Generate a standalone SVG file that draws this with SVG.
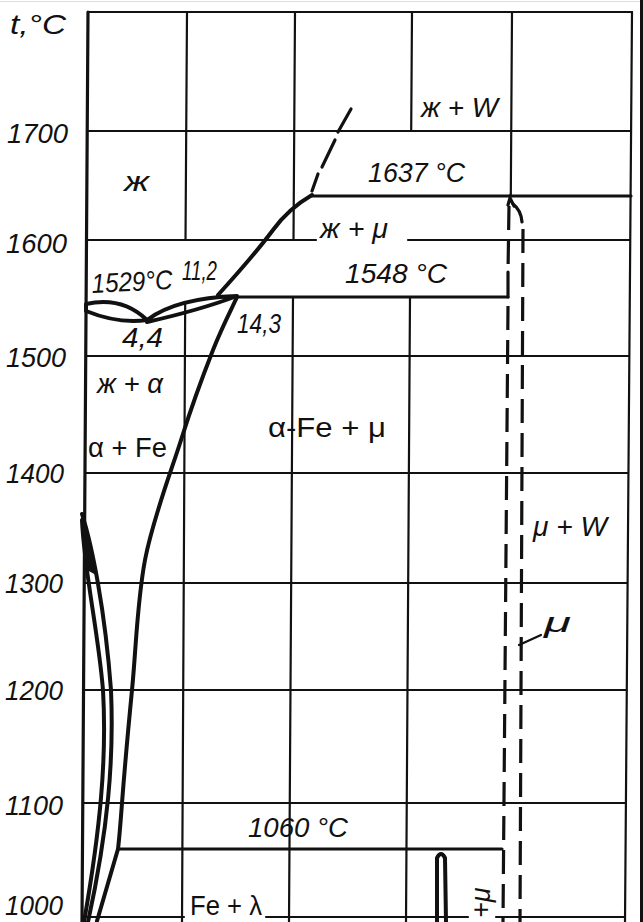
<svg xmlns="http://www.w3.org/2000/svg" width="643" height="922" viewBox="0 0 643 922">
<style>
.g{stroke:#111;stroke-width:2.2;fill:none;stroke-linecap:round}
.m{stroke:#111;stroke-width:3.2;fill:none;stroke-linecap:round}
.c{stroke:#111;stroke-width:4;fill:none;stroke-linecap:round;stroke-linejoin:round}
.d{stroke:#111;stroke-width:3.2;fill:none;stroke-dasharray:24 10}
.ax{font-family:"Liberation Sans",Arial,sans-serif;font-style:italic;font-size:28px;fill:#111}
.lb{font-family:"Liberation Sans",Arial,sans-serif;font-style:italic;font-size:27px;fill:#111}
.up{font-family:"Liberation Sans",Arial,sans-serif;font-size:28px;fill:#111}
</style>
<rect width="643" height="922" fill="#fff"/>
<rect x="640" y="0" width="3" height="922" fill="#111"/>
<line x1="0" y1="1.5" x2="640" y2="1.5" stroke="#ddd" stroke-width="1"/>

<g id="grid">
  <line class="m" x1="88" y1="12" x2="82" y2="922"/>
  <line class="g" x1="632" y1="12" x2="625" y2="922"/>
  <line class="g" x1="88" y1="12" x2="632" y2="12"/>
  <line class="g" x1="187" y1="12" x2="185.5" y2="240"/>
  <line class="g" x1="185.2" y1="303" x2="182" y2="922"/>
  <line class="g" x1="295" y1="12" x2="293.5" y2="240"/>
  <line class="g" x1="293" y1="297" x2="289" y2="922"/>
  <line class="g" x1="412" y1="12" x2="411.2" y2="131"/>
  <line class="g" x1="410" y1="297" x2="406" y2="922"/>
  <line class="g" x1="512" y1="12" x2="510.8" y2="196"/>
  <line class="g" x1="88" y1="131" x2="631" y2="131"/>
  <line class="g" x1="87" y1="240" x2="316" y2="240"/>
  <line class="g" x1="408" y1="240" x2="630" y2="240"/>
  <line class="g" x1="86" y1="356" x2="629" y2="356"/>
  <line class="g" x1="86" y1="473" x2="628" y2="473"/>
  <line class="g" x1="85" y1="583" x2="627" y2="583"/>
  <line class="g" x1="84" y1="690" x2="626" y2="690"/>
  <line class="g" x1="83" y1="803" x2="625" y2="803"/>
  <line class="g" x1="82" y1="917" x2="184" y2="917"/>
  <line class="g" x1="266" y1="917" x2="468" y2="917"/>
  <line class="g" x1="496" y1="917" x2="625" y2="917"/>
</g>

<g id="axis-labels">
  <text class="ax" x="10" y="34" textLength="56" lengthAdjust="spacingAndGlyphs">t,°C</text>
  <text class="ax" x="7" y="143" textLength="61" lengthAdjust="spacingAndGlyphs">1700</text>
  <text class="ax" x="6" y="253" textLength="61" lengthAdjust="spacingAndGlyphs">1600</text>
  <text class="ax" x="6" y="367" textLength="60" lengthAdjust="spacingAndGlyphs">1500</text>
  <text class="ax" x="6" y="483" textLength="58" lengthAdjust="spacingAndGlyphs">1400</text>
  <text class="ax" x="5" y="593" textLength="58" lengthAdjust="spacingAndGlyphs">1300</text>
  <text class="ax" x="5" y="700" textLength="58" lengthAdjust="spacingAndGlyphs">1200</text>
  <text class="ax" x="5" y="815" textLength="58" lengthAdjust="spacingAndGlyphs">1100</text>
  <text class="ax" x="5" y="915" font-size="25" textLength="58" lengthAdjust="spacingAndGlyphs">1000</text>
</g>

<g id="phase-lines">
  <line class="m" x1="312" y1="196" x2="631" y2="196"/>
  <line class="m" x1="217" y1="297" x2="508" y2="297"/>
  <line class="m" x1="508" y1="272" x2="508" y2="297"/>
  <line class="m" x1="118" y1="849" x2="502" y2="849"/>
  <line class="m" x1="312" y1="191" x2="318" y2="174"/>
  <line class="m" x1="322" y1="167" x2="335" y2="140"/>
  <line class="m" x1="338" y1="132" x2="351" y2="109"/>
  <path class="c" d="M312,195 C300,202 286,212 273,230 C258,250 238,273 218,295"/>
  <path class="c" d="M86,304 Q122,296 147,320 Q118,324 86,311 Z" fill="#fff"/>
  <path class="c" d="M147,320 Q176,298 237,296 Q200,310 147,322 Z" fill="#fff"/>
  <path class="c" d="M237,297 C233,306 222,327 213,350 C204,373 193,402 182,437 C171,472 153,518 145,560 C137,602 136,650 132,690 C128,731 124,777 122,803 C120,830 119,841 118,849 L97,921"/>
  <path class="c" d="M82,514 C92,545 105,610 111,690 C114,760 108,830 88,922"/>
  <path class="c" d="M82,520 C84,570 98,630 103,690 C107,760 100,830 84,922"/>
  <path d="M82,514 C88,535 92,555 96,575 L87,570 Z" fill="#111"/>
  <path class="m" d="M508,205 L510,198 L514,206" stroke-width="2.6"/>
  <line class="d" x1="509" y1="206" x2="508" y2="272"/>
  <line class="d" x1="508" y1="306" x2="503" y2="922"/>
  <path class="m" d="M513,204 Q521,210 522,222"/>
  <line class="d" x1="523" y1="229" x2="520" y2="922"/>
  <line class="g" x1="519" y1="645" x2="541" y2="635"/>
  <path class="c" d="M437,922 L437,858 Q441,850 445,858 L446,922" stroke-width="3.4"/>
</g>

<g id="labels">
  <text class="lb" x="124" y="191" textLength="25" lengthAdjust="spacingAndGlyphs">ж</text>
  <text class="lb" x="421" y="117" textLength="77" lengthAdjust="spacingAndGlyphs">ж + W</text>
  <text class="lb" x="368" y="182" textLength="97" lengthAdjust="spacingAndGlyphs">1637 °C</text>
  <text class="lb" x="320" y="238" textLength="68" lengthAdjust="spacingAndGlyphs">ж + μ</text>
  <text class="lb" x="345" y="283" textLength="102" lengthAdjust="spacingAndGlyphs">1548 °C</text>
  <text class="lb" x="92" y="293" font-size="25" textLength="81" lengthAdjust="spacingAndGlyphs" transform="rotate(-3 92 293)">1529°C</text>
  <text class="lb" x="182" y="280" font-size="24" textLength="35" lengthAdjust="spacingAndGlyphs">11,2</text>
  <text class="lb" x="237" y="333" textLength="44" lengthAdjust="spacingAndGlyphs">14,3</text>
  <text class="lb" x="122" y="347" font-size="26" textLength="41" lengthAdjust="spacingAndGlyphs">4,4</text>
  <text class="lb" x="97" y="393" font-size="26" textLength="66" lengthAdjust="spacingAndGlyphs">ж + α</text>
  <text class="up" x="88" y="457" textLength="79" lengthAdjust="spacingAndGlyphs">α + Fe</text>
  <text class="up" x="268" y="437" textLength="118" lengthAdjust="spacingAndGlyphs">α-Fe + μ</text>
  <text class="lb" x="533" y="536" textLength="74" lengthAdjust="spacingAndGlyphs">μ + W</text>
  <text class="lb" x="544" y="632" font-size="25" textLength="27" lengthAdjust="spacingAndGlyphs">μ</text>
  <text class="lb" x="248" y="837" textLength="100" lengthAdjust="spacingAndGlyphs">1060 °C</text>
  <text class="up" x="190" y="915" font-size="25" textLength="72" lengthAdjust="spacingAndGlyphs">Fe + λ</text>
  <text class="lb" x="490" y="918" font-size="24" transform="rotate(-90 490 918)">+μ</text>
</g>
</svg>
